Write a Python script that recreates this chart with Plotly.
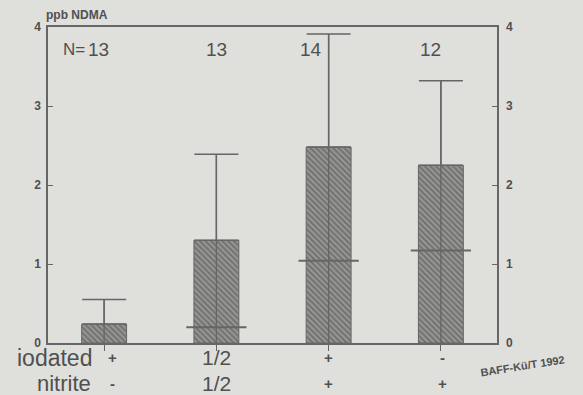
import plotly.graph_objects as go

categories = ["A", "B", "C", "D"]
iodated = ["+", "1/2", "+", "-"]
nitrite = ["-", "1/2", "+", "+"]
means = [0.24, 1.30, 2.48, 2.25]
sds = [0.31, 1.09, 1.43, 1.07]
medians = [None, 0.20, 1.04, 1.17]
n_counts = [13, 13, 14, 12]
y_ticks = [0, 1, 2, 3, 4]

BG = "#dfdfdc"
INK = "#505050"
LINE = "#666666"
FONT = "Liberation Sans, Arial, sans-serif"

W, H = 583, 395
L, R, T, B = 48, 86, 27, 52
pw, ph = W - L - R, H - T - B


def px_x(px):
    return (px - L) / pw


def px_y(py):
    return (H - B - py) / ph


fig = go.Figure()

fig.add_trace(go.Bar(
    x=categories, y=means, width=0.4,
    marker=dict(color="#949492", line=dict(color="#666666", width=1),
                pattern=dict(shape="\\", fgcolor="#4a4a4a", bgcolor="#989896",
                             size=4, solidity=0.5)),
    error_y=dict(type="data", array=sds, arrayminus=[0]*len(sds), symmetric=False,
                 color=LINE, thickness=1.5, width=22),
    showlegend=False, hoverinfo="skip"))

# vertical whisker through each bar, from 0 to mean+sd
vx, vy = [], []
for c, m, s in zip(categories, means, sds):
    vx += [c, c, None]
    vy += [0, m + s, None]
fig.add_trace(go.Scatter(x=vx, y=vy, mode="lines",
                         line=dict(color=LINE, width=1.3),
                         showlegend=False, hoverinfo="skip"))

# medians
fig.add_trace(go.Scatter(x=categories, y=medians, mode="markers",
                         marker=dict(symbol="line-ew", size=43,
                                     line=dict(color=LINE, width=2)),
                         showlegend=False, hoverinfo="skip"))

# right axis (duplicate scale)
fig.add_trace(go.Scatter(x=categories, y=means, yaxis="y2", mode="markers",
                         marker=dict(opacity=0), showlegend=False, hoverinfo="skip"))

annotations = []
n_shift = [-6, 0, -18, -10]
for c, n, sh in zip(categories, n_counts, n_shift):
    annotations.append(dict(x=c, y=3.71, xref="x", yref="y", text=str(n),
                            showarrow=False, xshift=sh,
                            font=dict(size=19, color=INK, family=FONT)))
annotations.append(dict(x=px_x(61), y=3.71, xref="paper", yref="y", text="N=",
                        showarrow=False, font=dict(size=17, color=INK, family=FONT)))


def sym_font(s):
    if "/" in s:
        return dict(size=21, color=INK, family=FONT)
    return dict(size=15, color=INK, family=FONT, weight="bold")


sym_shift = [8, 0, 0, 2]
for c, a, b, sh in zip(categories, iodated, nitrite, sym_shift):
    annotations.append(dict(x=c, y=px_y(357), xref="x", yref="paper", text=a,
                            showarrow=False, yanchor="middle", xshift=sh,
                            font=sym_font(a)))
    annotations.append(dict(x=c, y=px_y(383), xref="x", yref="paper", text=b,
                            showarrow=False, yanchor="middle", xshift=sh,
                            font=sym_font(b)))

annotations.append(dict(x=px_x(94), y=px_y(358), xref="paper", yref="paper",
                        text="iodated", showarrow=False, xanchor="right",
                        yanchor="middle", font=dict(size=23, color=INK, family=FONT)))
annotations.append(dict(x=px_x(93), y=px_y(383), xref="paper", yref="paper",
                        text="nitrite", showarrow=False, xanchor="right",
                        yanchor="middle", font=dict(size=22, color=INK, family=FONT)))

annotations.append(dict(x=px_x(44), y=px_y(15), xref="paper", yref="paper",
                        text="<b>ppb NDMA</b>", showarrow=False, xanchor="left",
                        yanchor="middle", font=dict(size=12, color=INK, family=FONT)))
annotations.append(dict(x=px_x(522), y=px_y(366), xref="paper", yref="paper",
                        text="<b>BAFF-Kü/T 1992</b>", showarrow=False, textangle=-9,
                        xanchor="center", yanchor="middle",
                        font=dict(size=11, color=INK, family=FONT)))

tickfont = dict(size=12, color=INK, family=FONT, weight="bold")

fig.update_layout(
    width=W, height=H,
    margin=dict(l=L, r=R, t=T, b=B),
    paper_bgcolor=BG, plot_bgcolor=BG,
    annotations=annotations,
    xaxis=dict(range=[-0.5, 3.5], showticklabels=False, ticks="outside", ticklen=6,
               tickcolor=LINE, tickwidth=1.2, showline=True, linecolor=LINE,
               linewidth=1.5, mirror=True, showgrid=False, zeroline=False),
    yaxis=dict(range=[0, 4], tickvals=y_ticks, ticks="inside", ticklen=5,
               tickcolor=LINE, showline=True, linecolor=LINE, linewidth=1.5,
               mirror=True, showgrid=False, zeroline=False, tickfont=tickfont,
               ticklabelstandoff=3),
    yaxis2=dict(range=[0, 4], tickvals=y_ticks, ticks="inside", ticklen=5,
                tickcolor=LINE, overlaying="y", side="right", showline=False,
                showgrid=False, zeroline=False, tickfont=tickfont,
                ticklabelstandoff=8),
)

fig.write_html(
    "out.html",
    config={"displayModeBar": False},
    post_script="document.body.style.margin='0';document.body.style.background='%s';" % BG,
)
